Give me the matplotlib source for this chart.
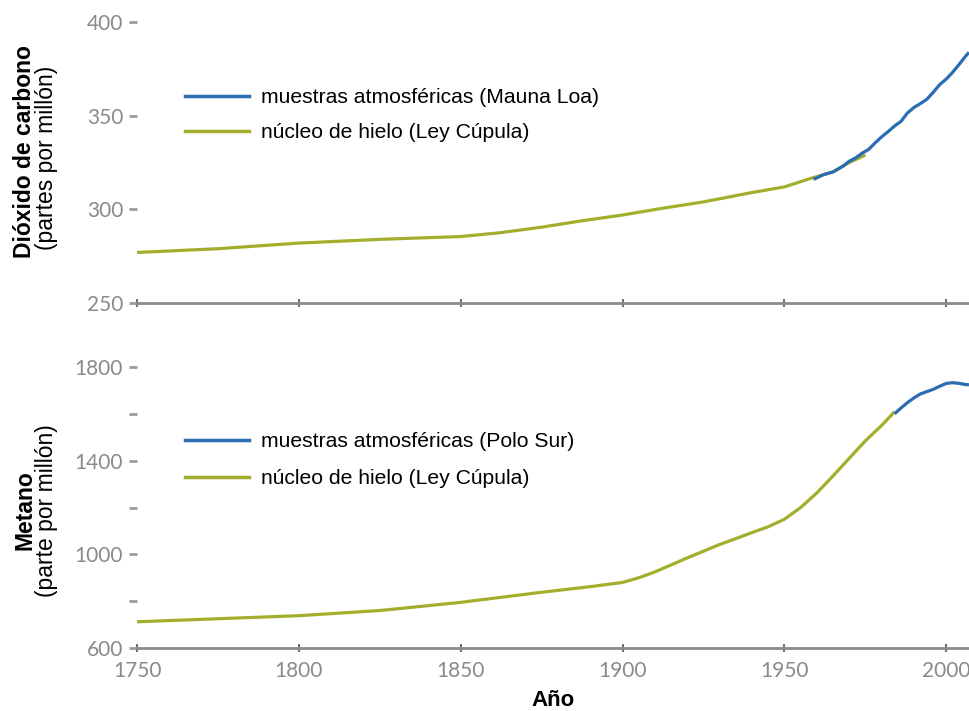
import matplotlib.pyplot as plt
from matplotlib.ticker import MultipleLocator

# CO2 (ppm): Law Dome ice core and Mauna Loa air samples
co2_ice_years = [1750, 1775, 1800, 1825, 1850, 1862, 1875, 1887, 1900, 1912, 1925, 1940,
                 1950, 1958, 1965, 1970, 1975]
co2_ice_ppm = [277, 279, 282, 284, 285.5, 287.5, 290.5, 293.8, 297, 300.5, 304, 309,
               312, 316.5, 320, 325, 329]
co2_air_years = [1959, 1962, 1965, 1968, 1970, 1972, 1974, 1976, 1978, 1980, 1982, 1984,
                 1986, 1988, 1990, 1992, 1994, 1996, 1998, 2000, 2002, 2004, 2006, 2007]
co2_air_ppm = [316, 318.5, 320, 323, 325.7, 327.5, 330, 332, 335.5, 338.7, 341.5, 344.5,
               347, 351.5, 354.4, 356.5, 358.8, 362.6, 366.7, 369.6, 373.3, 377.5, 381.9, 383.8]

# CH4: Law Dome ice core and South Pole air samples
ch4_ice_years = [1750, 1775, 1800, 1825, 1850, 1875, 1890, 1900, 1905, 1910, 1920, 1930,
                 1940, 1945, 1950, 1955, 1960, 1965, 1970, 1975, 1980, 1984]
ch4_ice_val = [712, 725, 738, 760, 795, 838, 862, 880, 900, 925, 985, 1042,
               1093, 1118, 1150, 1200, 1262, 1335, 1410, 1485, 1550, 1609]
ch4_air_years = [1984, 1986, 1988, 1990, 1992, 1994, 1996, 1998, 2000, 2002, 2004, 2006, 2007]
ch4_air_val = [1600, 1625, 1648, 1668, 1685, 1695, 1705, 1718, 1730, 1733, 1730, 1725, 1724]

year_ticks = [1750, 1800, 1850, 1900, 1950, 2000]
co2_ticks = [250, 300, 350, 400]
ch4_ticks = [600, 1000, 1400, 1800]

blue = '#2b6cb3'
green = '#a3ae2c'
gray = '#8a8a8a'

plt.rcParams['font.family'] = ['Liberation Sans', 'DejaVu Sans']

fig = plt.figure(figsize=(9.69, 7.11), dpi=100)
ax1 = fig.add_axes([0.1414, 0.5738, 0.8586, 0.4215])
ax2 = fig.add_axes([0.1414, 0.0886, 0.8586, 0.4117])


def style_axis(ax):
    for side in ['left', 'top', 'right']:
        ax.spines[side].set_visible(False)
    ax.spines['bottom'].set_color(gray)
    ax.spines['bottom'].set_linewidth(2.0)
    ax.set_xlim(1750, 2007)
    ax.set_xticks(year_ticks)
    ax.tick_params(axis='x', direction='inout', length=6, width=1.5, color='#707070',
                   pad=6, labelsize=15, labelcolor=gray)
    ax.tick_params(axis='y', which='both', direction='out', length=6, width=2,
                   color='#9a9a9a', pad=4, labelsize=15, labelcolor=gray)
    for lab in ax.get_xticklabels() + ax.get_yticklabels():
        lab.set_family('Lato')


# top panel: carbon dioxide
ax1.plot(co2_ice_years, co2_ice_ppm, color=green, lw=2.3, solid_capstyle='butt')
ax1.plot(co2_air_years, co2_air_ppm, color=blue, lw=2.3, solid_capstyle='butt')
ax1.set_ylim(250, 410)
ax1.set_yticks(co2_ticks)
style_axis(ax1)
ax1.tick_params(axis='x', labelbottom=False)

# bottom panel: methane
ax2.plot(ch4_ice_years, ch4_ice_val, color=green, lw=2.3, solid_capstyle='butt')
ax2.plot(ch4_air_years, ch4_air_val, color=blue, lw=2.3, solid_capstyle='butt')
ax2.set_ylim(600, 1850)
ax2.set_yticks(ch4_ticks)
ax2.yaxis.set_minor_locator(MultipleLocator(200))
style_axis(ax2)
ax2.set_xlabel('Año', fontsize=16, fontweight='bold', labelpad=7)

# legends
h_blue = plt.Line2D([], [], color=blue, lw=2.5)
h_green = plt.Line2D([], [], color=green, lw=2.5)
legend_kw = dict(loc='upper left', frameon=False, fontsize=15.2, handlelength=3.05,
                 handletextpad=0.55, borderpad=0, borderaxespad=0)
fig.legend([h_blue, h_green],
           ['muestras atmosféricas (Mauna Loa)', 'núcleo de hielo (Ley Cúpula)'],
           bbox_to_anchor=(185 / 969, 1 - 88 / 711), labelspacing=0.76, **legend_kw)
fig.legend([h_blue, h_green],
           ['muestras atmosféricas (Polo Sur)', 'núcleo de hielo (Ley Cúpula)'],
           bbox_to_anchor=(185 / 969, 1 - 432 / 711), labelspacing=0.86, **legend_kw)

# two-line y labels
fig.text(25 / 969, 1 - 152 / 711, 'Dióxido de carbono', rotation=90, fontsize=16.5,
         fontweight='bold', ha='center', va='center')
fig.text(47 / 969, 1 - 158 / 711, '(partes por millón)', rotation=90, fontsize=16.5,
         ha='center', va='center')
fig.text(25 / 969, 1 - 510 / 711, 'Metano', rotation=90, fontsize=16.5,
         fontweight='bold', ha='center', va='center')
fig.text(47 / 969, 1 - 511 / 711, '(parte por millón)', rotation=90, fontsize=16.5,
         ha='center', va='center')

fig.savefig('out.png', dpi=100)
